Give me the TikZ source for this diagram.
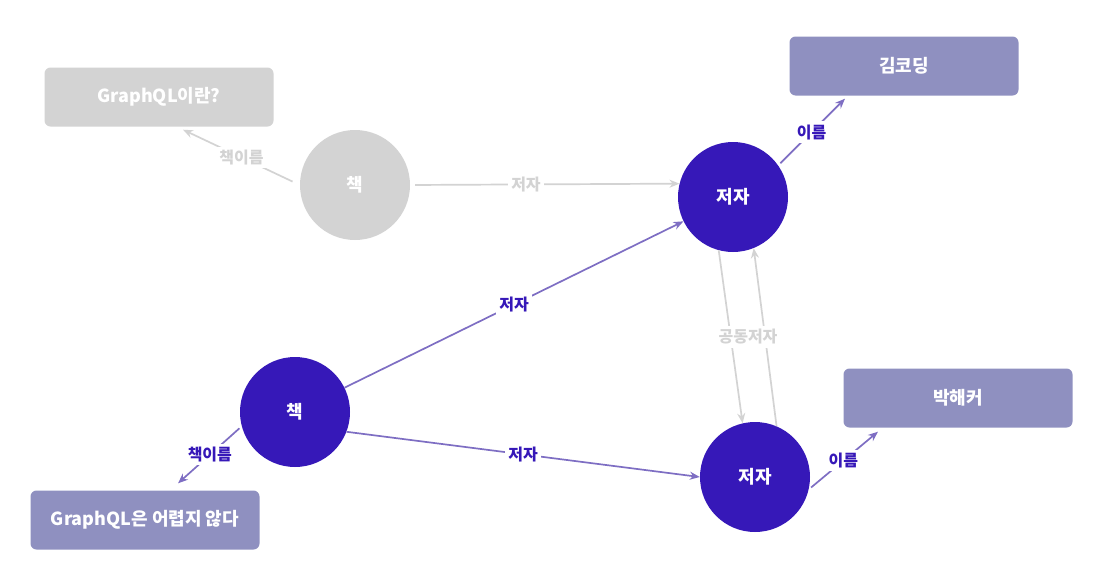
\documentclass[tikz,border=0pt]{standalone}
\usepackage{fontspec}
\setmainfont{Noto Sans CJK KR}
\usetikzlibrary{arrows.meta,positioning}
\usepackage{xcolor}

\definecolor{bookpurple}{HTML}{3618B8}
\definecolor{boxpurple}{HTML}{8F90C0}
\definecolor{linepurple}{HTML}{7E6EC3}
\definecolor{fadegray}{HTML}{D3D3D3}

\begin{document}
\begin{tikzpicture}[x=1pt, y=-1pt,
    every node/.style={font=\bfseries\fontsize{18}{20}\selectfont, text=white},
    circ/.style={circle, minimum size=110pt, inner sep=0pt, fill=bookpurple},
    valuebox/.style={rectangle, rounded corners=6pt, minimum width=229pt, minimum height=59pt, fill=boxpurple},
    faded/.style={fill=fadegray},
    link/.style={-{Stealth[length=10pt, width=8pt]}, linepurple, line width=1.7pt},
    fadelink/.style={-{Stealth[length=10pt, width=8pt]}, fadegray, line width=1.7pt},
    lbl/.style={fill=white, inner sep=3pt, font=\bfseries\fontsize{16}{18}\selectfont, text=bookpurple},
    fadelbl/.style={fill=white, inner sep=3pt, font=\bfseries\fontsize{16}{18}\selectfont, text=fadegray}
]

    \useasboundingbox (0, 0) rectangle (1116, 584);



    \node (title_whatis) [valuebox, faded] at (159, 97)
    {
        GraphQL이란?
    };

    \node (book_old) [circ, faded] at (355, 185)
    {
        책
    };

    \node (author_kim) [circ] at (733, 197)
    {
        저자
    };

    \node (name_kim) [valuebox] at (904, 66)
    {
        김코딩
    };





    \node (book_new) [circ] at (295, 412)
    {
        책
    };

    \node (title_easy) [valuebox] at (145, 520)
    {
        GraphQL은 어렵지 않다
    };

    \node (author_park) [circ] at (755, 477)
    {
        저자
    };

    \node (name_park) [valuebox] at (958, 398)
    {
        박해커
    };


    \draw[fadelink, shorten <=5pt] (book_old.east) to node[fadelbl, pos=0.43] {저자} (author_kim.166);
    \draw[fadelink, shorten <=8pt] (book_old.west) to node[fadelbl] {책이름} ([xshift=24pt, yshift=-3pt]title_whatis.south);
    \draw[fadelink] (author_kim.-105) to (author_park.103);
    \draw[fadelink] (author_park.67) to (author_kim.-68);
    \node[fadelbl] (coauthor_lbl) at (748, 337) {공동저자};

    \draw[link, shorten <=3pt] (author_kim.35) to node[lbl] {이름} ([xshift=-59pt, yshift=-3pt]name_kim.south);
    \draw[link] (book_new) to node[lbl] {저자} (author_kim);
    \draw[link] (book_new.-21) to node[lbl] {저자} (author_park.west);
    \draw[link, shorten <=3pt] (book_new.-165) to node[lbl] {책이름} ([xshift=33pt, yshift=7pt]title_easy.north);
    \draw[link, shorten <=3pt] (author_park.-13) to node[lbl] {이름} ([xshift=-80pt, yshift=-4pt]name_park.south);


\end{tikzpicture}
\end{document}
